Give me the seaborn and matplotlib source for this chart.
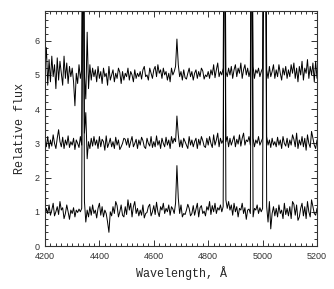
"""Three stacked spectra (offsets 1, 3, 5) between 4200 and 5200 A."""
import numpy as np
import pandas as pd
import seaborn as sns
import matplotlib
matplotlib.use("Agg")
import matplotlib.pyplot as plt
from matplotlib.ticker import MultipleLocator

# wavelength grid, 5 A step
wave = np.arange(4200, 5201, 5)

flux_low = [
    0.85, 1.10, 0.95, 1.20, 0.90, 1.05, 1.25, 0.88, 1.00, 1.15,
    0.92, 1.30, 1.05, 1.12, 0.80, 0.95, 1.20, 1.00, 0.78, 1.05,
    0.95, 1.12, 0.85, 1.05, 0.98, 1.08, 1.00, 1.10, 12.0, 1.30,
    0.70, 1.05, 0.85, 1.15, 0.90, 1.20, 0.95, 1.05, 0.82, 1.10,
    1.25, 0.90, 1.15, 0.85, 1.05, 0.95, 0.70, 0.40, 1.00, 0.88,
    1.15, 0.95, 1.30, 1.18, 0.85, 1.00, 1.20, 0.90, 0.85, 1.15,
    0.92, 1.35, 1.05, 1.25, 0.85, 1.15, 1.30, 0.95, 1.10, 0.88,
    1.05, 0.90, 1.20, 0.82, 0.95, 0.98, 1.15, 1.22, 0.88, 1.00,
    1.18, 0.92, 1.28, 1.00, 0.86, 1.15, 1.05, 1.25, 0.95, 1.10,
    1.00, 1.20, 0.90, 1.15, 1.08, 0.95, 1.25, 2.35, 1.40, 0.95,
    1.20, 0.85, 0.95, 0.92, 1.05, 1.22, 1.10, 0.88, 0.95, 1.18,
    0.90, 1.08, 1.25, 0.85, 1.12, 1.18, 0.95, 1.02, 0.88, 1.15,
    1.05, 1.30, 0.92, 1.18, 1.00, 1.25, 0.95, 1.12, 1.05, 1.20,
    1.00, 1.15, 12.0, 1.35, 1.10, 1.30, 1.05, 1.20, 0.90, 1.25,
    1.00, 1.15, 0.85, 1.10, 1.05, 1.25, 0.95, 1.12, 0.78, 1.05,
    1.08, 0.95, 12.0, 0.85, 1.10, 1.05, 1.20, 0.95, 1.12, 1.00,
    1.10, 12.0, 12.0, 1.15, 0.70, 1.30, 0.50, 0.95, 1.15, 0.88,
    1.10, 0.85, 1.20, 0.95, 1.05, 0.80, 1.25, 0.92, 1.10, 0.88,
    1.15, 0.80, 1.30, 1.22, 0.90, 1.20, 0.75, 0.85, 1.10, 1.25,
    0.88, 1.15, 0.80, 1.30, 1.00, 0.85, 1.35, 1.15, 0.95, 0.90,
    1.10,
]

flux_mid = [
    3.15, 2.90, 3.20, 2.85, 3.10, 2.92, 3.25, 3.00, 2.85, 3.15,
    3.40, 3.05, 2.90, 3.18, 2.85, 3.10, 2.95, 3.22, 2.88, 3.05,
    2.95, 3.15, 2.82, 3.10, 3.00, 2.88, 3.20, 2.95, 12.0, 3.30,
    3.90, 2.55, 3.05, 2.85, 3.15, 2.92, 3.20, 2.95, 3.10, 2.85,
    3.20, 2.90, 3.12, 3.05, 2.80, 3.22, 2.88, 3.00, 3.15, 2.90,
    3.05, 2.85, 3.18, 2.95, 3.10, 2.82, 2.90, 3.00, 3.15, 3.12,
    2.95, 3.15, 2.88, 3.05, 3.20, 2.90, 3.00, 3.12, 2.85, 3.10,
    2.95, 3.18, 3.08, 2.90, 2.85, 3.15, 3.00, 2.92, 3.20, 2.88,
    3.05, 2.90, 3.22, 2.95, 3.08, 2.85, 3.15, 3.00, 2.90, 3.18,
    2.95, 3.10, 2.85, 3.20, 3.00, 3.15, 3.05, 3.80, 3.25, 2.90,
    3.10, 2.88, 3.15, 3.05, 2.95, 2.85, 3.20, 2.95, 3.10, 2.90,
    3.05, 3.15, 2.85, 3.12, 2.95, 3.20, 3.08, 2.92, 2.88, 3.15,
    2.95, 3.20, 3.00, 2.88, 3.25, 2.95, 3.10, 3.30, 2.90, 3.15,
    3.00, 3.10, 12.0, 3.05, 3.20, 2.90, 3.15, 2.95, 3.08, 3.22,
    2.90, 3.12, 2.98, 3.25, 2.92, 3.15, 3.30, 2.95, 3.10, 3.05,
    3.20, 2.95, 12.0, 3.15, 2.90, 3.10, 3.00, 3.20, 2.95, 3.05,
    3.15, 12.0, 12.0, 3.20, 2.95, 3.10, 2.88, 3.15, 2.95, 3.05,
    2.90, 3.18, 2.95, 3.10, 2.85, 3.20, 3.00, 2.92, 3.15, 2.88,
    3.10, 2.95, 3.25, 3.12, 2.90, 3.30, 2.85, 3.10, 2.95, 3.20,
    2.90, 3.15, 2.80, 3.25, 3.00, 2.88, 3.35, 3.15, 2.95, 2.85,
    3.10,
]

flux_top = [
    5.20, 5.80, 4.70, 5.45, 4.80, 5.55, 4.95, 5.30, 4.60, 5.50,
    4.85, 5.40, 5.05, 4.70, 5.55, 4.90, 5.35, 4.75, 5.25, 4.95,
    5.20, 4.80, 4.10, 5.05, 4.75, 5.30, 4.90, 5.15, 12.0, 5.00,
    4.30, 6.25, 4.60, 5.30, 4.85, 5.20, 4.95, 5.15, 4.80, 5.25,
    4.90, 5.10, 4.75, 5.20, 4.95, 5.05, 4.70, 5.25, 4.85, 5.00,
    5.15, 4.80, 5.05, 4.90, 5.20, 5.08, 4.75, 5.10, 4.85, 5.05,
    4.95, 5.20, 4.85, 5.10, 5.00, 4.80, 5.15, 4.90, 5.05, 4.95,
    5.10, 4.88, 5.15, 5.25, 4.95, 5.00, 4.85, 5.20, 5.05, 4.90,
    5.15, 5.25, 4.95, 5.30, 5.05, 5.15, 4.90, 5.20, 5.00, 5.10,
    4.85, 5.05, 4.80, 5.20, 5.00, 5.10, 5.25, 6.05, 5.30, 4.95,
    5.10, 4.85, 5.15, 4.92, 4.88, 5.05, 5.20, 4.95, 5.10, 4.85,
    5.05, 5.15, 4.90, 5.10, 4.95, 5.20, 5.12, 4.88, 5.00, 4.95,
    5.10, 4.90, 5.15, 5.00, 5.30, 4.92, 5.15, 5.35, 4.95, 5.10,
    5.00, 5.20, 12.0, 5.10, 4.95, 5.20, 5.00, 5.25, 4.90, 5.15,
    5.30, 4.95, 5.20, 5.05, 5.35, 4.90, 5.15, 5.30, 5.00, 5.20,
    4.95, 5.15, 12.0, 5.25, 4.90, 5.15, 5.05, 5.20, 4.95, 5.10,
    5.20, 12.0, 12.0, 5.15, 4.90, 5.25, 4.95, 5.10, 5.30, 4.90,
    5.15, 4.95, 5.30, 5.05, 4.85, 5.20, 5.00, 5.25, 4.90, 5.15,
    4.95, 5.30, 5.05, 5.35, 4.90, 5.20, 4.80, 5.25, 5.00, 5.40,
    4.85, 5.20, 5.05, 5.45, 4.90, 5.25, 5.00, 5.35, 4.80, 5.40,
    4.90,
]

sns.set_style("ticks")
plt.rcParams["font.family"] = ["Liberation Sans", "DejaVu Sans"]

fig = plt.figure(figsize=(3.34, 2.89), dpi=100)
ax = fig.add_axes([45 / 334, 1 - 246 / 289, 272 / 334, 235 / 289])

for flux in (flux_low, flux_mid, flux_top):
    sns.lineplot(x=wave, y=flux, color="black", lw=0.7, ax=ax,
                 estimator=None, sort=False)

ax.set_xlim(4200, 5200)
ax.set_ylim(0, 6.87)
ax.xaxis.set_major_locator(MultipleLocator(200))
ax.xaxis.set_minor_locator(MultipleLocator(20))
ax.yaxis.set_major_locator(MultipleLocator(1))
ax.yaxis.set_minor_locator(MultipleLocator(0.2))
ax.tick_params(which="both", direction="in", top=True, right=True,
               labelsize=6.5, colors="#333333", width=0.7)
ax.tick_params(which="major", length=4, pad=4)
ax.tick_params(which="minor", length=2)
for s in ax.spines.values():
    s.set_linewidth(0.8)
    s.set_color("#333333")

lab = dict(family=["Liberation Mono", "DejaVu Sans Mono"], size=8.5)
ax.set_xlabel("Wavelength, Å", labelpad=4, **lab)
ax.set_ylabel("Relative flux", labelpad=6, **lab)

fig.savefig("out.png", dpi=100)
